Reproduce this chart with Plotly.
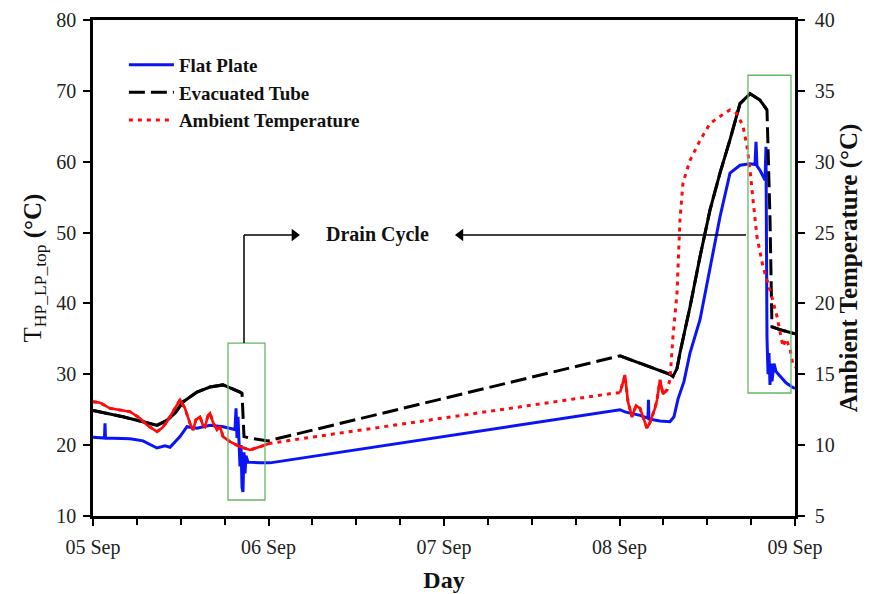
import pandas as pd
import plotly.graph_objects as go

START = pd.Timestamp("2018-09-05")

# Flat plate collector, T_HP_LP_top (°C) vs hours from 05 Sep 00:00
fp_hours = [0.0, 1.57, 1.64, 1.71, 5.06, 6.84, 8.75, 9.85, 10.53, 11.90, 12.85, 14.22,
            16.0, 17.78, 19.42, 19.56, 19.69, 19.83, 20.10, 20.24, 20.38, 20.51, 20.65,
            20.79, 20.92, 21.20, 22.84, 24.21, 72.07, 72.75, 74.80, 75.89, 75.96, 76.03,
            77.54, 78.90, 79.45, 80.0, 80.82, 81.64, 83.01, 84.38, 85.74, 87.11, 88.48,
            89.85, 90.53, 90.67, 90.80, 91.21, 91.90, 92.03, 92.17, 92.31, 92.44, 92.58,
            92.72, 92.85, 93.13, 93.40, 93.95, 94.77, 95.59, 96.0]
fp_temp = [21.1, 21.0, 23.1, 21.0, 20.9, 20.6, 19.6, 19.9, 19.7, 21.2, 22.6, 22.4,
           22.8, 22.6, 22.2, 25.2, 21.0, 24.0, 17.0, 20.0, 14.0, 13.4, 19.0,
           16.0, 18.5, 17.6, 17.5, 17.5, 25.0, 24.7, 24.2, 23.8, 26.4, 23.7,
           23.4, 23.3, 24.0, 26.5, 29.0, 33.0, 37.7, 45.2, 52.2, 58.4, 59.5,
           59.7, 59.6, 62.8, 59.4, 58.8, 57.4, 62.1, 35.3, 30.0, 33.0, 28.5,
           31.5, 29.0, 31.5, 30.4, 29.7, 28.8, 28.2, 28.0]

# Evacuated tube collector, T_HP_LP_top (°C)
et_hours = [0.0, 4.10, 8.75, 10.12, 11.21, 12.31, 14.22, 16.0, 17.78, 19.01, 20.10,
            20.38, 20.51, 20.65, 21.47, 23.25, 23.93, 72.07, 78.90, 79.31, 79.86,
            80.27, 81.64, 83.01, 84.38, 85.74, 87.11, 88.48, 89.85, 91.21, 92.17,
            92.58, 92.85, 93.95, 96.0]
et_temp = [24.9, 24.0, 22.8, 23.5, 24.5, 26.1, 27.5, 28.2, 28.5, 28.0, 27.5,
           27.3, 24.8, 21.2, 21.0, 20.7, 20.6, 32.6, 30.0, 29.7, 30.8,
           33.0, 39.5, 46.6, 53.2, 58.4, 63.1, 68.2, 69.6, 68.7, 67.3,
           52.0, 36.7, 36.3, 35.7]

# Ambient temperature (°C), right axis
amb_hours = [0.0, 0.96, 2.32, 3.69, 5.06, 6.43, 7.38, 8.75, 9.44, 10.12, 10.94, 11.49,
             11.90, 12.58, 13.26, 13.68, 14.09, 14.63, 15.04, 15.32, 15.73, 16.0,
             16.41, 16.96, 17.37, 17.78, 18.74, 20.10, 21.47, 22.84, 24.21, 71.11,
             72.07, 72.75, 73.16, 73.71, 74.26, 74.80, 75.35, 75.76, 76.17, 76.44,
             76.85, 77.13, 77.54, 77.95, 78.50, 78.90, 79.31, 79.86, 80.27, 80.68,
             81.64, 83.01, 84.38, 85.74, 87.11, 88.07, 88.89, 89.44, 89.85, 90.26,
             90.80, 91.62, 92.58, 93.54, 94.36, 94.77, 95.32, 95.73, 96.0]
amb_temp = [13.07, 13.0, 12.6, 12.5, 12.36, 11.9, 11.42, 10.95, 11.2, 11.65, 12.36, 12.8,
            13.2, 12.6, 11.54, 11.07, 11.8, 12.0, 11.4, 11.3, 12.1, 12.25,
            11.6, 11.07, 11.3, 10.6, 10.24, 9.89, 9.66, 9.89, 10.13, 13.66,
            13.7, 14.95, 13.07, 12.0, 12.8, 12.6, 11.8, 11.19, 11.6, 12.0,
            12.6, 13.19, 14.6, 13.6, 13.9, 14.6, 17.65, 20.7, 25.9, 28.5,
            30.1, 31.5, 32.7, 33.2, 33.65, 33.4, 32.5, 31.06, 29.4, 27.3,
            24.7, 22.6, 20.95, 19.07, 16.95, 17.5, 16.8, 15.6, 15.5]

x_tick_labels = ["05 Sep", "06 Sep", "07 Sep", "08 Sep", "09 Sep"]

FONT = "Liberation Serif, Times New Roman, serif"
GREEN = "#66b866"


def at(hours):
    return START + pd.Timedelta(hours=hours)


def stamp(hours):
    return [at(h) for h in hours]


def only_where(hours, values, keep):
    return [v if keep(h) else None for h, v in zip(hours, values)]


fp_x, et_x, amb_x = stamp(fp_hours), stamp(et_hours), stamp(amb_hours)

fig = go.Figure()

fig.add_trace(go.Scatter(x=fp_x, y=fp_temp, mode="lines", name="Flat Plate",
                         line=dict(color="#0a14f5", width=3)))

fig.add_trace(go.Scatter(x=et_x, y=et_temp, mode="lines", name="Evacuated Tube",
                         line=dict(color="black", width=3, dash="16px,6px")))
# logged stretches of the evacuated tube read as a continuous trace
et_logged = lambda h: h <= 20.4 or 72.0 <= h <= 92.2 or h >= 92.85
fig.add_trace(go.Scatter(x=et_x, y=only_where(et_hours, et_temp, et_logged),
                         mode="lines", showlegend=False, hoverinfo="skip",
                         line=dict(color="black", width=3)))

fig.add_trace(go.Scatter(x=amb_x, y=amb_temp, mode="lines", name="Ambient Temperature",
                         yaxis="y2", line=dict(color="#ff0a0a", width=3, dash="4px,5px")))
amb_dense = lambda h: h <= 24.3 or 72.0 <= h <= 78.6
fig.add_trace(go.Scatter(x=amb_x, y=only_where(amb_hours, amb_temp, amb_dense),
                         mode="lines", yaxis="y2", showlegend=False, hoverinfo="skip",
                         line=dict(color="#ff0a0a", width=2.6)))

tick_vals = [START + pd.Timedelta(days=d) for d in range(len(x_tick_labels))]

axis_common = dict(showline=True, linecolor="black", linewidth=2.5, ticks="outside",
                   ticklen=7, tickwidth=2, tickcolor="black", showgrid=False,
                   zeroline=False, automargin=False,
                   tickfont=dict(family=FONT, size=20, color="#222"))

fig.update_layout(
    width=869, height=594,
    margin=dict(l=93, r=74, t=20, b=78),
    paper_bgcolor="white", plot_bgcolor="white",
    font=dict(family=FONT, color="#111"),
    xaxis=dict(type="date", range=[tick_vals[0], tick_vals[-1]], tickmode="array",
               tickvals=tick_vals, ticktext=x_tick_labels, mirror=True,
               ticklabelstandoff=4,
               minor=dict(tick0=tick_vals[0], dtick=6 * 3600 * 1000, ticks="outside",
                          ticklen=6, tickwidth=2, tickcolor="black", showgrid=False),
               title=dict(text="Day", font=dict(family=FONT, size=24, weight="bold"),
                          standoff=14),
               **axis_common),
    yaxis=dict(range=[10, 80], dtick=10, mirror=True, ticklabelstandoff=3,
               title=dict(text="T<sub>HP_LP_top</sub> <b>(°C)</b>",
                          font=dict(family=FONT, size=25), standoff=8),
               **axis_common),
    yaxis2=dict(range=[5, 40], dtick=5, overlaying="y", side="right", ticklabelstandoff=6,
                title=dict(text="Ambient Temperature (°C)",
                           font=dict(family=FONT, size=25, weight="bold"), standoff=6),
                **axis_common),
    legend=dict(x=0.044, y=0.948, xanchor="left", yanchor="top",
                bgcolor="rgba(0,0,0,0)", tracegroupgap=0, itemwidth=45,
                font=dict(family=FONT, size=19, weight="bold", color="#111")),
    showlegend=True,
)

# drain-cycle windows
for x0, x1, y0, y1 in [(18.46, 23.52, 12.26, 34.4), (89.57, 95.45, 27.36, 72.2)]:
    fig.add_shape(type="rect", xref="x", yref="y", x0=at(x0), x1=at(x1),
                  y0=y0, y1=y1, line=dict(color=GREEN, width=1.3))

# callout leaders pointing at the "Drain Cycle" label
label_y = 49.66
leader = dict(color="black", width=1.5)
fig.add_shape(type="line", xref="x", yref="y", x0=at(20.65), x1=at(20.65),
              y0=34.4, y1=label_y, line=leader)
fig.add_shape(type="line", xref="x", yref="y", x0=at(20.65), x1=at(27.2),
              y0=label_y, y1=label_y, line=leader)
fig.add_shape(type="line", xref="x", yref="y", x0=at(50.6), x1=at(89.3),
              y0=label_y, y1=label_y, line=leader)
fig.add_trace(go.Scatter(x=[at(27.55), at(50.25)], y=[label_y, label_y], mode="markers",
                         showlegend=False, hoverinfo="skip",
                         marker=dict(symbol=["triangle-right", "triangle-left"], size=11,
                                     color="black", line=dict(width=0))))

fig.add_annotation(x=at(38.84), y=label_y, xref="x", yref="y",
                   text="Drain Cycle", showarrow=False,
                   font=dict(family=FONT, size=20, weight="bold", color="#111"))

fig.write_html("out.html")
